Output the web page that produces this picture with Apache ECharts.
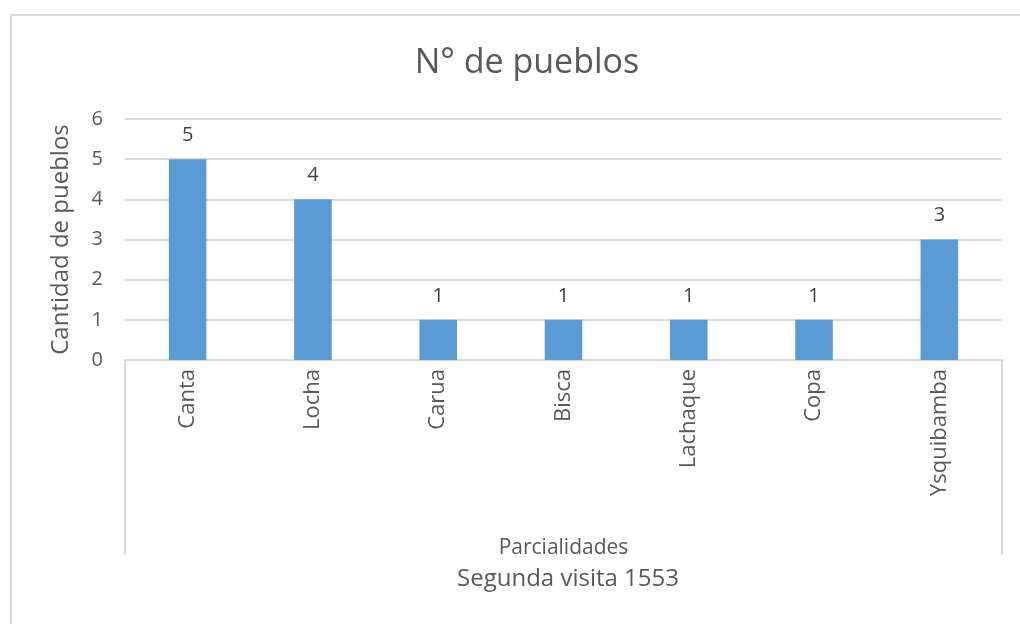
<!DOCTYPE html>
<html>
<head>
<meta charset="utf-8">
<script src="https://cdn.jsdelivr.net/npm/echarts@6/dist/echarts.min.js"></script>
<style>html,body{margin:0;padding:0;background:#fff}#c{width:1020px;height:624px}</style>
</head>
<body>
<div id="c"></div>
<script>
const categories = ['Canta', 'Locha', 'Carua', 'Bisca', 'Lachaque', 'Copa', 'Ysquibamba'];
const values = [5, 4, 1, 1, 1, 1, 3];
const yTicks = [0, 1, 2, 3, 4, 5, 6];
const titleText = 'N° de pueblos';
const yName = 'Cantidad de pueblos';
const xName = 'Parcialidades';
const groupName = 'Segunda visita 1553';

const FONT = '"Open Sans", "Noto Sans", sans-serif';
const TXT = '#595959';
const LINE = '#d9d9d9';
const chart = echarts.init(document.getElementById('c'), null, {renderer: 'canvas'});
chart.setOption({
  animation: false,
  backgroundColor: '#fff',
  title: [
    {text: titleText, left: 522, textAlign: 'center', top: 41, textStyle: {fontFamily: FONT, fontSize: 34, fontWeight: 'normal', color: TXT}},
    {text: groupName, left: 563, textAlign: 'center', top: 562, textStyle: {fontFamily: FONT, fontSize: 24, fontWeight: 'normal', color: TXT}}
  ],
  grid: {left: 125, right: 18, top: 119, bottom: 264, containLabel: false},
  xAxis: {
    type: 'category', data: categories,
    axisLine: {lineStyle: {color: LINE, width: 2}},
    axisTick: {show: false},
    axisLabel: {rotate: 90, color: TXT, fontFamily: FONT, fontSize: 22, margin: 9},
    name: xName, nameLocation: 'middle', nameGap: 178,
    nameTextStyle: {fontFamily: FONT, fontSize: 21, color: TXT}
  },
  yAxis: {
    type: 'value', min: yTicks[0], max: yTicks[yTicks.length - 1], interval: 1,
    axisLine: {show: false}, axisTick: {show: false},
    axisLabel: {color: TXT, fontFamily: FONT, fontSize: 20, margin: 22},
    splitLine: {lineStyle: {color: LINE, width: 2}},
    name: yName, nameLocation: 'middle', nameGap: 52, nameRotate: 90,
    nameTextStyle: {fontFamily: FONT, fontSize: 24, color: TXT}
  },
  series: [{
    type: 'bar', data: values, barWidth: '30%',
    itemStyle: {color: '#5b9bd5'},
    label: {show: true, position: 'top', distance: 14, color: '#404040', fontFamily: FONT, fontSize: 20}
  }],
  graphic: [
    {type: 'polyline', shape: {points: [[11, 624], [11, 15], [1020, 15]]}, style: {stroke: '#d9d9d9', lineWidth: 2, fill: null}, silent: true},
    {type: 'line', shape: {x1: 125, y1: 360, x2: 125, y2: 555}, style: {stroke: LINE, lineWidth: 2}, silent: true},
    {type: 'line', shape: {x1: 1002, y1: 360, x2: 1002, y2: 555}, style: {stroke: LINE, lineWidth: 2}, silent: true}
  ]
});
</script>
</body>
</html>
